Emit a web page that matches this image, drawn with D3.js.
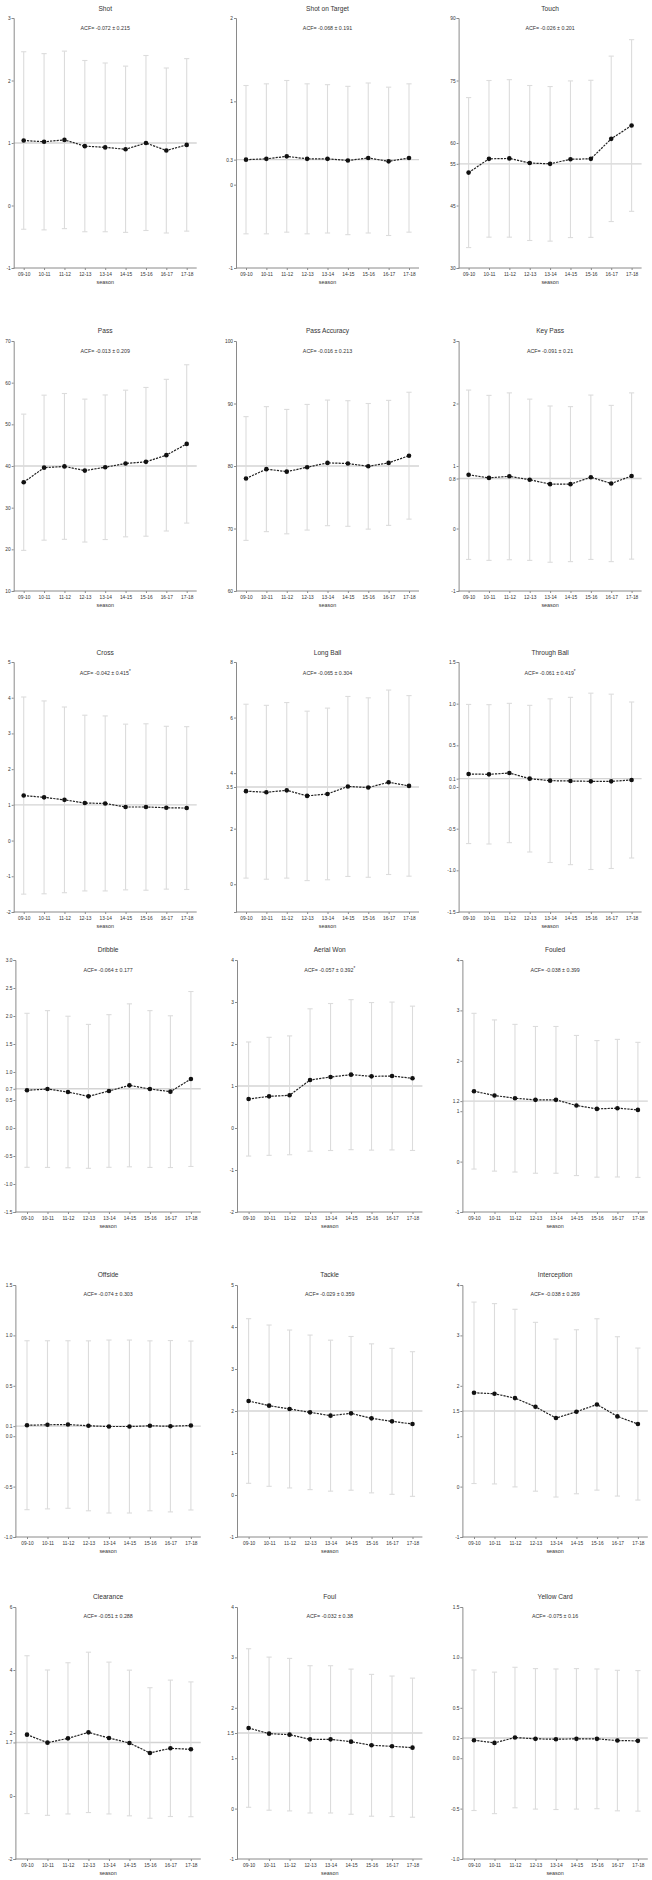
<!DOCTYPE html>
<html>
<head>
<meta charset="utf-8">
<script src="https://cdn.jsdelivr.net/npm/d3@7"></script>
<style>
  body { margin: 0; background: #fff; }
  svg { display: block; }
  text { font-family: "Liberation Sans", Arial, sans-serif; fill: #333; }
</style>
</head>
<body>
<svg id="chart" width="652" height="1880"></svg>
<script>
// seasons on the x axis of every panel
var seasons = ["09-10", "10-11", "11-12", "12-13", "13-14", "14-15", "15-16", "16-17", "17-18"];

var titles = ["Shot", "Shot on Target", "Touch",
              "Pass", "Pass Accuracy", "Key Pass",
              "Cross", "Long Ball", "Through Ball",
              "Dribble", "Aerial Won", "Fouled",
              "Offside", "Tackle", "Interception",
              "Clearance", "Foul", "Yellow Card"];

// ACF text, the flag marks the ones with an asterisk
var acfText = ["-0.072 ± 0.215", "-0.068 ± 0.191", "-0.026 ± 0.201",
               "-0.013 ± 0.209", "-0.016 ± 0.213", "-0.091 ± 0.21",
               "-0.042 ± 0.415", "-0.065 ± 0.304", "-0.061 ± 0.419",
               "-0.064 ± 0.177", "-0.057 ± 0.392", "-0.038 ± 0.399",
               "-0.074 ± 0.303", "-0.029 ± 0.359", "-0.038 ± 0.269",
               "-0.051 ± 0.288", "-0.032 ± 0.38", "-0.075 ± 0.16"];
var acfStar = [0, 0, 0, 0, 0, 0, 1, 0, 1, 0, 1, 0, 0, 0, 0, 0, 0, 0];

var yDomains = [[-1, 3], [-1, 2], [30, 90],
                [10, 70], [60, 100], [-1, 3],
                [-2, 5], [-1, 8], [-1.5, 1.5],
                [-1.5, 3], [-2, 4], [-1, 4],
                [-1, 1.5], [-1, 5], [-1, 4],
                [-2, 6], [-1, 4], [-1, 1.5]];

// y tick labels (the reference value of each panel is labelled too)
var yTickLabels = [
  ["-1", "0", "1", "2", "3"],
  ["-1", "0", "0.3", "1", "2"],
  ["30", "45", "55", "60", "75", "90"],
  ["10", "20", "30", "40", "50", "60", "70"],
  ["60", "70", "80", "90", "100"],
  ["-1", "0", "0.8", "1", "2", "3"],
  ["-2", "-1", "0", "1", "2", "3", "4", "5"],
  ["0", "2", "3.5", "4", "6", "8"],
  ["-1.5", "-1.0", "-0.5", "0.0", "0.1", "0.5", "1.0", "1.5"],
  ["-1.5", "-1.0", "-0.5", "0.0", "0.5", "0.7", "1.0", "1.5", "2.0", "2.5", "3.0"],
  ["-2", "-1", "0", "1", "2", "3", "4"],
  ["-1", "0", "1", "1.2", "2", "3", "4"],
  ["-1.0", "-0.5", "0.0", "0.1", "0.5", "1.0", "1.5"],
  ["-1", "0", "1", "2", "3", "4", "5"],
  ["-1", "0", "1", "1.5", "2", "3", "4"],
  ["-2", "0", "1.7", "2", "4", "6"],
  ["-1", "0", "1", "1.5", "2", "3", "4"],
  ["-1.0", "-0.5", "0.0", "0.2", "0.5", "1.0", "1.5"]
];

// horizontal reference line
var refValues = [1, 0.3, 55, 40, 80, 0.8, 1, 3.5, 0.1, 0.7, 1, 1.2, 0.1, 2, 1.5, 1.7, 1.5, 0.2];

// season means
var means = [
  [1.04, 1.02, 1.05, 0.95, 0.93, 0.90, 1.00, 0.88, 0.97],
  [0.30, 0.31, 0.34, 0.31, 0.31, 0.29, 0.32, 0.28, 0.32],
  [52.9, 56.2, 56.3, 55.2, 55.0, 56.1, 56.2, 61.0, 64.2],
  [36.1, 39.6, 39.9, 38.9, 39.7, 40.6, 41.0, 42.6, 45.3],
  [78.0, 79.5, 79.1, 79.8, 80.5, 80.4, 79.95, 80.5, 81.65],
  [0.86, 0.81, 0.835, 0.78, 0.71, 0.71, 0.82, 0.72, 0.84],
  [1.26, 1.21, 1.14, 1.05, 1.04, 0.94, 0.94, 0.92, 0.91],
  [3.35, 3.31, 3.38, 3.18, 3.25, 3.52, 3.48, 3.67, 3.54],
  [0.156, 0.152, 0.168, 0.10, 0.076, 0.072, 0.068, 0.068, 0.084],
  [0.673, 0.696, 0.643, 0.565, 0.661, 0.762, 0.696, 0.649, 0.875],
  [0.69, 0.754, 0.778, 1.143, 1.214, 1.27, 1.23, 1.238, 1.183],
  [1.397, 1.311, 1.258, 1.225, 1.225, 1.113, 1.046, 1.06, 1.026],
  [0.109, 0.113, 0.116, 0.103, 0.096, 0.096, 0.103, 0.099, 0.106],
  [2.238, 2.127, 2.048, 1.968, 1.889, 1.944, 1.825, 1.754, 1.69],
  [1.861, 1.842, 1.756, 1.584, 1.36, 1.485, 1.63, 1.393, 1.241],
  [1.947, 1.693, 1.83, 2.02, 1.84, 1.683, 1.366, 1.514, 1.482],
  [1.599, 1.487, 1.467, 1.374, 1.374, 1.328, 1.256, 1.236, 1.209],
  [0.178, 0.152, 0.205, 0.192, 0.188, 0.192, 0.192, 0.175, 0.172]
];

// season standard deviations (error bars are mean ± sd)
var sds = [
  [1.42, 1.41, 1.42, 1.37, 1.35, 1.33, 1.40, 1.32, 1.38],
  [0.89, 0.90, 0.91, 0.90, 0.89, 0.89, 0.90, 0.89, 0.89],
  [18.0, 18.8, 18.9, 18.6, 18.55, 18.8, 18.85, 19.85, 20.6],
  [16.35, 17.4, 17.5, 17.15, 17.35, 17.6, 17.85, 18.2, 19.0],
  [9.9, 10.0, 9.95, 10.05, 10.05, 10.05, 10.05, 10.0, 10.15],
  [1.355, 1.32, 1.335, 1.29, 1.25, 1.24, 1.315, 1.25, 1.33],
  [2.76, 2.70, 2.60, 2.46, 2.45, 2.32, 2.33, 2.28, 2.28],
  [3.13, 3.13, 3.16, 3.05, 3.09, 3.24, 3.23, 3.32, 3.25],
  [0.835, 0.836, 0.836, 0.88, 0.982, 1.004, 1.058, 1.046, 0.936],
  [1.375, 1.40, 1.353, 1.285, 1.363, 1.455, 1.40, 1.355, 1.562],
  [1.358, 1.405, 1.415, 1.695, 1.75, 1.786, 1.757, 1.76, 1.718],
  [1.545, 1.50, 1.465, 1.456, 1.456, 1.39, 1.355, 1.365, 1.34],
  [0.838, 0.834, 0.831, 0.843, 0.858, 0.858, 0.843, 0.85, 0.838],
  [1.96, 1.92, 1.88, 1.84, 1.797, 1.83, 1.774, 1.738, 1.722],
  [1.80, 1.789, 1.762, 1.675, 1.567, 1.627, 1.70, 1.581, 1.508],
  [2.506, 2.307, 2.40, 2.545, 2.41, 2.312, 2.072, 2.165, 2.14],
  [1.573, 1.519, 1.513, 1.461, 1.461, 1.44, 1.407, 1.394, 1.38],
  [0.697, 0.702, 0.697, 0.697, 0.697, 0.697, 0.693, 0.697, 0.697]
];

// page layout: one row of three panels per entry
var rowTop    = [18, 341, 662, 960, 1285, 1607];
var rowBottom = [268, 591, 912, 1212, 1537, 1859];
var rowTitleY = [9, 331, 653, 950, 1275, 1597];
var rowAcfY   = [29, 352, 674, 971, 1295, 1617];

var svg = d3.select("#chart");
svg.append("rect").attr("width", 652).attr("height", 1880).attr("fill", "#fff");

var line = d3.line()
    .x(function(d) { return d.x; })
    .y(function(d) { return d.y; });

titles.forEach(function(title, i) {
    var row = Math.floor(i / 3), col = i % 3;

    // the lower three rows sit a touch further right and are a touch wider
    var axisX = row < 3 ? [13.7, 236, 458.6][col] : [15.4, 237, 462.4][col];
    var pad = row < 3 ? { first: 10, last: 173, end: 183 } : { first: 11.6, last: 175.5, end: 185.4 };
    var endX = axisX + pad.end;
    var midX = (axisX + endX) / 2;

    var xScale = d3.scalePoint().domain(seasons).range([axisX + pad.first, axisX + pad.last]);
    var yScale = d3.scaleLinear().domain(yDomains[i]).range([rowBottom[row], rowTop[row]]);

    var g = svg.append("g").attr("class", "panel");

    // reference line
    g.append("line")
        .attr("x1", axisX).attr("x2", endX)
        .attr("y1", yScale(refValues[i])).attr("y2", yScale(refValues[i]))
        .attr("stroke", "#d4d4d4").attr("stroke-width", 1.4);

    var pts = seasons.map(function(s, j) {
        return { s: s, m: means[i][j], sd: sds[i][j], x: xScale(s), y: yScale(means[i][j]) };
    });

    // error bars with caps
    var bars = g.selectAll(".err").data(pts).enter().append("g").attr("class", "err")
        .attr("stroke", "#dcdcdc").attr("stroke-width", 1.1);
    bars.append("line")
        .attr("x1", function(d) { return d.x; }).attr("x2", function(d) { return d.x; })
        .attr("y1", function(d) { return yScale(d.m - d.sd); })
        .attr("y2", function(d) { return yScale(d.m + d.sd); });
    [1, -1].forEach(function(sign) {
        bars.append("line")
            .attr("x1", function(d) { return d.x - 2.6; }).attr("x2", function(d) { return d.x + 2.6; })
            .attr("y1", function(d) { return yScale(d.m + sign * d.sd); })
            .attr("y2", function(d) { return yScale(d.m + sign * d.sd); });
    });

    // dashed trend line and points
    g.append("path")
        .attr("d", line(pts))
        .attr("fill", "none")
        .attr("stroke", "#222")
        .attr("stroke-width", 1.2)
        .attr("stroke-dasharray", "2.2,1.1");
    g.selectAll(".pt").data(pts).enter().append("circle")
        .attr("class", "pt")
        .attr("cx", function(d) { return d.x; })
        .attr("cy", function(d) { return d.y; })
        .attr("r", 2.3)
        .attr("fill", "#111");

    // y axis
    var tickVals = yTickLabels[i].map(Number);
    var yAxis = g.append("g")
        .attr("transform", "translate(" + axisX + ",0)")
        .call(d3.axisLeft(yScale)
            .tickValues(tickVals)
            .tickSize(2)
            .tickPadding(1)
            .tickFormat(function(d) { return yTickLabels[i][tickVals.indexOf(d)]; }));
    yAxis.selectAll("path, line").attr("stroke", "#8a8a8a");
    yAxis.selectAll("text").attr("font-size", 4.8).attr("fill", "#333");
    yAxis.attr("font-family", null);

    // x axis: line drawn by hand so it starts at the y axis
    var xAxis = g.append("g")
        .attr("transform", "translate(0," + rowBottom[row] + ")")
        .call(d3.axisBottom(xScale).tickSize(2).tickPadding(2.5));
    xAxis.select(".domain").remove();
    xAxis.selectAll("line").attr("stroke", "#8a8a8a");
    xAxis.selectAll("text").attr("font-size", 4.8).attr("fill", "#333");
    xAxis.attr("font-family", null);
    g.append("line")
        .attr("x1", axisX).attr("x2", endX)
        .attr("y1", rowBottom[row]).attr("y2", rowBottom[row])
        .attr("stroke", "#8a8a8a");

    g.append("text")
        .attr("x", midX).attr("y", rowBottom[row] + 15)
        .attr("text-anchor", "middle").attr("dominant-baseline", "middle")
        .attr("font-size", 5.4)
        .text("season");

    g.append("text")
        .attr("x", midX).attr("y", rowTitleY[row])
        .attr("text-anchor", "middle").attr("dominant-baseline", "middle")
        .attr("font-size", 6.6)
        .text(title);

    var acf = g.append("text")
        .attr("x", midX).attr("y", rowAcfY[row])
        .attr("text-anchor", "middle").attr("dominant-baseline", "middle")
        .attr("font-size", 5.3)
        .text("ACF= " + acfText[i]);
    if (acfStar[i]) {
        acf.append("tspan").attr("dy", -2).attr("font-size", 4.5).text("*");
    }
});
</script>
</body>
</html>
